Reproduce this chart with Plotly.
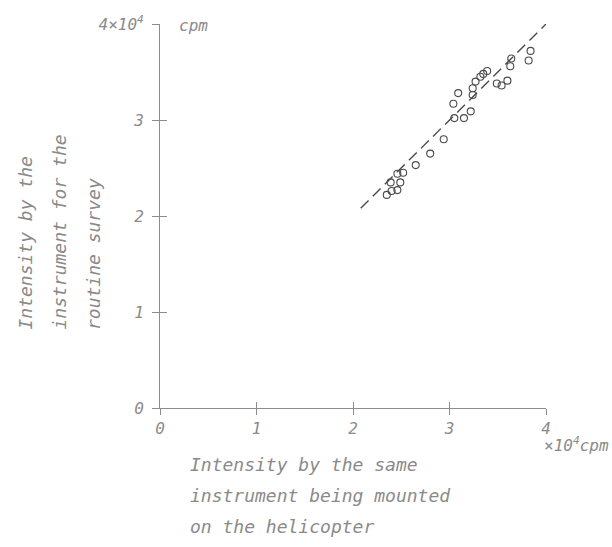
import plotly.graph_objects as go

# ---- data (x10^4 cpm) ----
helicopter_x = [3.84, 3.82, 3.64, 3.63, 3.60, 3.54, 3.49, 3.39, 3.35, 3.32,
                3.27, 3.24, 3.24, 3.09, 3.04, 3.22, 3.15, 3.05, 2.94, 2.80,
                2.65, 2.52, 2.46, 2.49, 2.39, 2.46, 2.40, 2.35]
routine_y = [3.72, 3.62, 3.64, 3.56, 3.41, 3.36, 3.38, 3.51, 3.48, 3.45,
             3.40, 3.33, 3.26, 3.28, 3.17, 3.09, 3.02, 3.02, 2.80, 2.65,
             2.53, 2.45, 2.44, 2.35, 2.35, 2.27, 2.26, 2.22]
ref_line_x = [2.08, 4.0]
ref_line_y = [2.08, 4.0]

tick_vals = [0, 1, 2, 3, 4]
x_tick_text = ["0", "1", "2", "3", "4"]
y_tick_text = ["0", "1", "2", "3", "4×10<sup>4</sup>"]

x_title_lines = ["Intensity by the same", "instrument being mounted", "on the helicopter"]
y_title_lines = ["Intensity by the", "instrument for the", "routine survey"]

FONT = "DejaVu Sans Mono"
TXT = "#8a8a8a"
AX = "#8c8c8c"
INK = "#4a4a4a"

fig = go.Figure()
fig.add_trace(go.Scatter(x=ref_line_x, y=ref_line_y, mode="lines",
                         line=dict(color=INK, width=1.4, dash="11px,6px"),
                         showlegend=False, hoverinfo="skip"))
fig.add_trace(go.Scatter(x=helicopter_x, y=routine_y, mode="markers",
                         marker=dict(symbol="circle-open", size=7,
                                     color=INK, line=dict(width=1.1)),
                         showlegend=False))
# invisible trace on overlay axes so their inside ticks render
fig.add_trace(go.Scatter(x=[0], y=[0], xaxis="x2", yaxis="y2", mode="markers",
                         marker=dict(opacity=0), showlegend=False, hoverinfo="skip"))

tickfont = dict(family=FONT, size=16, color=TXT, style="italic")

fig.update_layout(
    width=612, height=547,
    margin=dict(l=160, r=66, t=24, b=139),
    paper_bgcolor="white", plot_bgcolor="white",
    xaxis=dict(range=[0, 4], tickvals=tick_vals, ticktext=x_tick_text,
               showgrid=False, zeroline=False, showline=True, linecolor=AX,
               linewidth=1, ticks="outside", ticklen=6, tickcolor=AX,
               tickfont=tickfont, ticklabelstandoff=0),
    yaxis=dict(range=[0, 4], tickvals=tick_vals, ticktext=y_tick_text,
               showgrid=False, zeroline=False, showline=True, linecolor=AX,
               linewidth=1, ticks="outside", ticklen=7, tickcolor=AX,
               tickfont=tickfont, ticklabelstandoff=5),
    xaxis2=dict(range=[0, 4], overlaying="x", tickvals=tick_vals,
                showticklabels=False, showgrid=False, zeroline=False,
                showline=False, ticks="inside", ticklen=6, tickcolor=AX),
    yaxis2=dict(range=[0, 4], overlaying="y", tickvals=tick_vals,
                showticklabels=False, showgrid=False, zeroline=False,
                showline=False, ticks="inside", ticklen=7, tickcolor=AX),
)

ann = []
# units
ann.append(dict(text="cpm", xref="paper", yref="paper", x=0.044, y=0.995,
                xanchor="left", yanchor="middle", showarrow=False,
                font=dict(family=FONT, size=16, color=TXT, style="italic")))
ann.append(dict(text="×10<sup>4</sup>cpm", xref="paper", yref="paper",
                x=1.168, y=-0.095, xanchor="right", yanchor="middle",
                showarrow=False,
                font=dict(family=FONT, size=16, color=TXT, style="italic")))
# x title lines
for i, line in enumerate(x_title_lines):
    ann.append(dict(text=line, xref="paper", yref="paper",
                    x=0.073, y=-0.148 - i * 0.08, xanchor="left", yanchor="middle",
                    showarrow=False,
                    font=dict(family=FONT, size=18, color=TXT, style="italic")))
# y title lines (rotated)
for i, line in enumerate(y_title_lines):
    ann.append(dict(text=line, xref="paper", yref="paper",
                    x=(25 + 34 * i - 160) / 386, y=(408 - 332) / 384,
                    xanchor="center", yanchor="bottom", textangle=-90,
                    showarrow=False,
                    font=dict(family=FONT, size=18, color=TXT, style="italic")))
fig.update_layout(annotations=ann)

fig.write_html("out.html")
